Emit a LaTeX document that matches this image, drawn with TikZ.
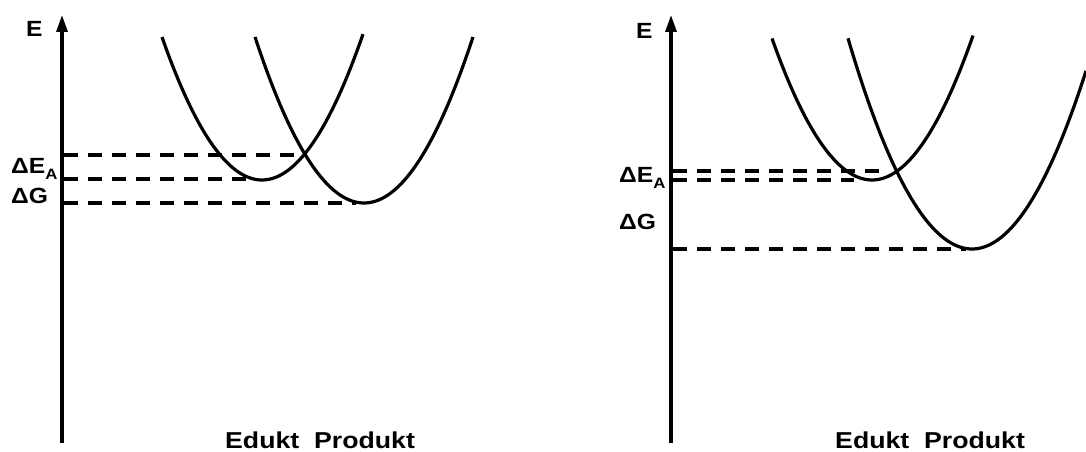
\documentclass[tikz,border=0pt]{standalone}
\usepackage{fontspec}
\setmainfont{Liberation Sans}
\usetikzlibrary{arrows.meta}
\newcommand{\lbl}[1]{\scalebox{1.12}[1]{\fontsize{22}{22}\selectfont\bfseries #1}}
\newcommand{\lblsub}{\raisebox{-6pt}{\fontsize{15}{15}\selectfont\bfseries A}}
\tikzset{
  axisline/.style={line width=3.2pt, -{Triangle[length=17pt,width=11pt]}},
  curve/.style={line width=3.2pt},
  dashline/.style={line width=3.2pt, dash pattern=on 14pt off 10pt},
  txt/.style={inner sep=0pt, anchor=base west},
}
\begin{document}
\begin{tikzpicture}[x=1pt,y=-1pt]
\useasboundingbox (0,0) rectangle (1086,452);
% ---------- left panel ----------
\coordinate (la0) at (62,443);
\coordinate (la1) at (62,15);
\draw[axisline] (la0) -- (la1);
\node[txt] (lE) at (26,37) {\lbl{E}};
\draw[curve] plot[domain=162:363, samples=80] (\x, {180-0.0143*(\x-262)*(\x-262)});
\draw[curve] plot[domain=255:473, samples=80] (\x, {203-0.01397*(\x-364)*(\x-364)});
\coordinate (l1a) at (64,155); \coordinate (l1b) at (304,155);
\coordinate (l2a) at (64,179); \coordinate (l2b) at (246,179);
\coordinate (l3a) at (64,203); \coordinate (l3b) at (356,203);
\draw[dashline] (l1a) -- (l1b);
\draw[dashline] (l2a) -- (l2b);
\draw[dashline] (l3a) -- (l3b);
\node[txt] (lEA) at (11,173) {\lbl{ΔE\lblsub}};
\node[txt] (lG) at (11,203) {\lbl{ΔG}};
\node[txt] (lEP) at (225,448) {\scalebox{1.16}[1]{\fontsize{23}{23}\selectfont\bfseries Edukt\ \ Produkt}};
% ---------- right panel ----------
\coordinate (ra0) at (671,443);
\coordinate (ra1) at (671,15);
\draw[axisline] (ra0) -- (ra1);
\node[txt] (rE) at (636,38) {\lbl{E}};
\draw[curve] plot[domain=772:973, samples=80] (\x, {180-0.01416*(\x-872)*(\x-872)});
\draw[curve] plot[domain=848:1086, samples=80] (\x, {249-0.0137*(\x-972)*(\x-972)});
\coordinate (r1a) at (673,171); \coordinate (r1b) at (881,171);
\coordinate (r2a) at (673,180); \coordinate (r2b) at (854,180);
\coordinate (r3a) at (673,249); \coordinate (r3b) at (966,249);
\draw[dashline] (r1a) -- (r1b);
\draw[dashline] (r2a) -- (r2b);
\draw[dashline] (r3a) -- (r3b);
\node[txt] (rEA) at (619,182) {\lbl{ΔE\lblsub}};
\node[txt] (rG) at (619,229) {\lbl{ΔG}};
\node[txt] (rEP) at (835,448) {\scalebox{1.16}[1]{\fontsize{23}{23}\selectfont\bfseries Edukt\ \ Produkt}};
\end{tikzpicture}
\end{document}
